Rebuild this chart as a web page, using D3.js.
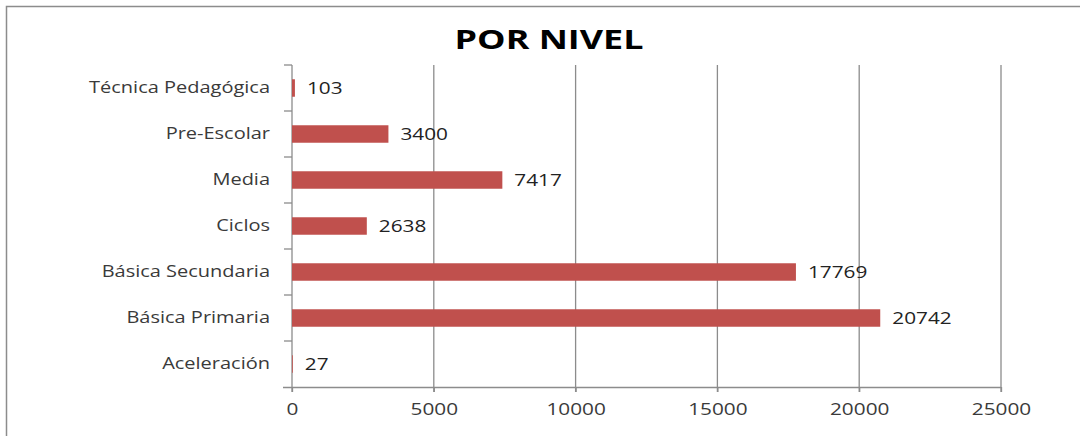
<!DOCTYPE html>
<html>
<head>
<meta charset="utf-8">
<script src="https://cdn.jsdelivr.net/npm/d3@7"></script>
<style>
  html, body { margin: 0; padding: 0; background: #fff; }
  svg { display: block; }
  text { font-family: "Open Sans", "DejaVu Sans", sans-serif; }
</style>
</head>
<body>
<svg id="chart" width="1080" height="436"></svg>
<script>
// Matrícula por nivel educativo
const categories = [
  "Técnica Pedagógica",
  "Pre-Escolar",
  "Media",
  "Ciclos",
  "Básica Secundaria",
  "Básica Primaria",
  "Aceleración"
];
const values = [103, 3400, 7417, 2638, 17769, 20742, 27];
const xTicks = [0, 5000, 10000, 15000, 20000, 25000];
const title = "POR NIVEL";

const W = 1080, H = 436;
const margin = { top: 65, right: 79, bottom: 49, left: 292 };
const svg = d3.select("#chart");

// text is drawn a little wider than the font's natural width
const wideCat = 1.29, wideNum = 1.3, wideTitle = 1.38;

// outer frame (runs off the right and bottom edges)
svg.append("rect")
  .attr("x", 6.5).attr("y", 6.5)
  .attr("width", W + 10).attr("height", H + 10)
  .attr("fill", "#fff")
  .attr("stroke", "#8c8c8c")
  .attr("stroke-width", 1.5);

const x = d3.scaleLinear()
  .domain([0, 25000])
  .range([margin.left, W - margin.right]);

const y = d3.scaleBand()
  .domain(categories)
  .range([margin.top, H - margin.bottom])
  .paddingInner(0.62)
  .paddingOuter(0.31);

const yTickScale = d3.scaleLinear()
  .domain([0, categories.length])
  .range([margin.top, H - margin.bottom]);

const axisColor = "#8c8c8c";
const labelColor = "#3a3a3a";
const baseY = H - margin.bottom;

// vertical gridlines
svg.append("g")
  .selectAll("line")
  .data(xTicks.slice(1))
  .join("line")
  .attr("x1", d => x(d)).attr("x2", d => x(d))
  .attr("y1", margin.top).attr("y2", baseY + 5)
  .attr("stroke", axisColor)
  .attr("stroke-width", 1.3);

// x axis
const xAxis = svg.append("g")
  .attr("transform", `translate(0,${baseY})`)
  .call(d3.axisBottom(x).tickValues(xTicks).tickFormat(d3.format("d")).tickSize(5).tickPadding(12).tickSizeOuter(0));
xAxis.select(".domain")
  .attr("d", `M${margin.left - 9},0.5H${x(25000)}`)
  .attr("stroke", axisColor).attr("stroke-width", 1.3);
xAxis.selectAll(".tick line").attr("stroke", axisColor).attr("stroke-width", 1.3);
xAxis.selectAll(".tick text")
  .attr("fill", labelColor)
  .attr("transform", `scale(${wideNum},1)`)
  .style("font-size", "16px");

// y axis line with category separator ticks
svg.append("line")
  .attr("x1", x(0)).attr("x2", x(0))
  .attr("y1", margin.top).attr("y2", baseY + 5)
  .attr("stroke", axisColor).attr("stroke-width", 1.3);
svg.append("g")
  .selectAll("line")
  .data(d3.range(categories.length))
  .join("line")
  .attr("x1", x(0) - 8).attr("x2", x(0))
  .attr("y1", d => yTickScale(d)).attr("y2", d => yTickScale(d))
  .attr("stroke", axisColor).attr("stroke-width", 1.3);

// category labels
svg.append("g")
  .selectAll("text")
  .data(categories)
  .join("text")
  .attr("transform", d => `translate(${x(0) - 22},${y(d) + y.bandwidth() / 2}) scale(${wideCat},1)`)
  .attr("dy", "0.35em")
  .attr("text-anchor", "end")
  .attr("fill", labelColor)
  .style("font-size", "15.5px")
  .text(d => d);

// bars
const rows = categories.map((c, i) => ({ c, v: values[i] }));
svg.append("g")
  .selectAll("rect")
  .data(rows)
  .join("rect")
  .attr("x", x(0))
  .attr("y", d => y(d.c))
  .attr("width", d => x(d.v) - x(0))
  .attr("height", y.bandwidth())
  .attr("fill", "#C0504D");

// value labels
svg.append("g")
  .selectAll("text")
  .data(rows)
  .join("text")
  .attr("transform", d => `translate(${x(d.v) + 12},${y(d.c) + y.bandwidth() / 2}) scale(${wideNum},1)`)
  .attr("dy", "0.35em")
  .attr("fill", "#222")
  .style("font-size", "16px")
  .text(d => d.v);

// title
svg.append("text")
  .attr("transform", `translate(549,48.5) scale(${wideTitle},1)`)
  .attr("text-anchor", "middle")
  .attr("fill", "#000")
  .style("font-size", "26px")
  .style("font-weight", "bold")
  .text(title);
</script>
</body>
</html>
